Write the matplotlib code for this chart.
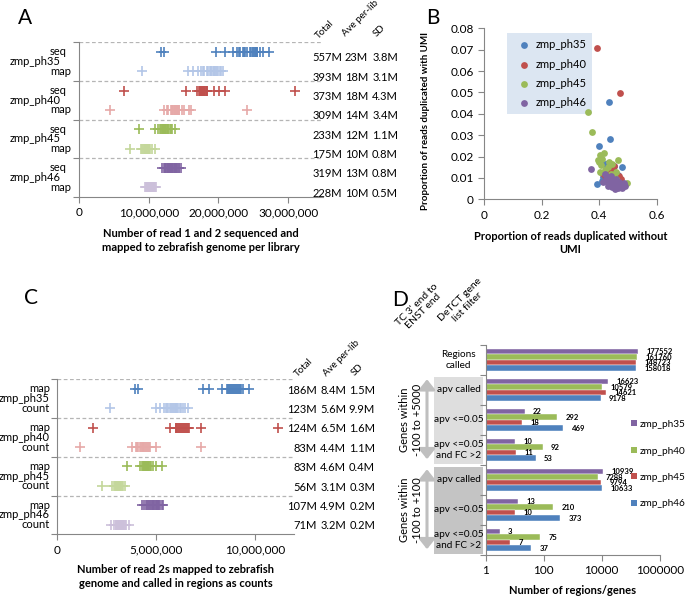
import numpy as np
import matplotlib
matplotlib.use("Agg")
import matplotlib.pyplot as plt
from matplotlib.transforms import blended_transform_factory
from matplotlib.patches import Rectangle, FancyArrowPatch, Patch
from matplotlib.ticker import FuncFormatter, NullLocator

plt.rcParams['font.family'] = ['Lato', 'DejaVu Sans']
plt.rcParams['font.size'] = 8

W, H = 685, 596

groups = ["zmp_ph35", "zmp_ph40", "zmp_ph45", "zmp_ph46"]
dark = ["#4F81BD", "#C0504D", "#9BBB59", "#8064A2"]
light = ["#B3C6E7", "#E6A9A8", "#C4D79B", "#CCC0DA"]

# --- panel A: reads per library (millions) ---
a_rows = ["seq", "map"]
a_seq = [
    [11.7, 12.2, 19.6, 20.9, 22.1, 22.6, 22.9, 23.1, 23.5, 23.6, 23.8, 24.1, 24.5,
     24.7, 24.9, 25.0, 25.2, 25.3, 25.4, 25.5, 25.6, 26.0, 26.4, 27.2],
    [6.4, 15.4, 16.9, 17.2, 17.3, 17.4, 17.5, 17.6, 17.7, 17.8, 17.9, 18.0, 18.1,
     18.2, 18.3, 18.4, 19.3, 20.1, 20.9, 31.0],
    [8.6, 10.9, 11.3, 11.6, 11.8, 11.9, 12.0, 12.1, 12.2, 12.3, 12.4, 12.5, 12.6,
     12.7, 12.8, 13.0, 13.2, 13.4, 13.8],
    [11.9, 12.2, 12.3, 12.4, 12.5, 12.6, 12.7, 12.8, 12.9, 13.0, 13.1, 13.2, 13.3,
     13.4, 13.5, 13.6, 13.7, 13.8, 13.9, 14.0, 14.1, 14.3, 14.4, 14.6],
]
a_map = [
    [9.0, 15.7, 16.4, 17.1, 17.5, 17.8, 18.0, 18.3, 18.5, 18.8, 18.9, 19.0, 19.2,
     19.3, 19.4, 19.5, 19.6, 19.8, 20.0, 20.2, 20.4, 20.7],
    [4.4, 12.2, 12.6, 12.8, 13.2, 13.3, 13.4, 13.5, 13.6, 13.7, 13.8, 13.9, 14.0,
     14.1, 14.2, 14.3, 14.4, 14.8, 15.1, 15.8, 16.0, 24.1],
    [7.3, 8.9, 9.1, 9.2, 9.3, 9.4, 9.5, 9.6, 9.6, 9.7, 9.8, 9.8, 9.9, 10.0, 10.1,
     10.2, 10.5, 10.9],
    [9.5, 9.6, 9.7, 9.8, 9.9, 10.0, 10.0, 10.1, 10.1, 10.2, 10.2, 10.3, 10.3, 10.4,
     10.4, 10.5, 10.6, 10.6, 10.7, 10.8, 10.9, 11.1],
]
a_stats = [["557M", "23M", "3.8M"], ["393M", "18M", "3.1M"],
           ["373M", "18M", "4.3M"], ["309M", "14M", "3.4M"],
           ["233M", "12M", "1.1M"], ["175M", "10M", "0.8M"],
           ["319M", "13M", "0.8M"], ["228M", "10M", "0.5M"]]

# --- panel C: read 2s (millions) ---
c_rows = ["map", "count"]
c_map = [
    [3.95, 4.12, 7.4, 7.7, 8.35, 8.6, 8.65, 8.7, 8.75, 8.8, 8.85, 8.9, 8.95, 9.0,
     9.05, 9.1, 9.15, 9.2, 9.25, 9.3, 9.4, 9.7],
    [1.85, 5.72, 6.0, 6.05, 6.1, 6.15, 6.2, 6.25, 6.3, 6.35, 6.4, 6.45, 6.5, 6.55,
     6.6, 6.65, 6.7, 7.3, 11.2],
    [3.54, 4.2, 4.3, 4.35, 4.4, 4.4, 4.45, 4.5, 4.5, 4.55, 4.6, 4.6, 4.65, 4.7,
     4.75, 4.85, 5.0, 5.3],
    [4.3, 4.4, 4.5, 4.55, 4.6, 4.65, 4.7, 4.75, 4.8, 4.85, 4.85, 4.9, 4.95, 5.0,
     5.05, 5.05, 5.1, 5.1, 5.15, 5.2, 5.3, 5.38],
]
c_count = [
    [2.7, 5.0, 5.2, 5.4, 5.5, 5.55, 5.6, 5.7, 5.75, 5.8, 5.85, 5.9, 5.95, 6.0,
     6.05, 6.1, 6.15, 6.25, 6.3, 6.4, 6.5, 6.65],
    [1.18, 3.8, 4.0, 4.05, 4.1, 4.2, 4.25, 4.3, 4.35, 4.38, 4.4, 4.45, 4.5, 4.55,
     4.6, 4.65, 4.7, 5.0, 7.3],
    [2.27, 2.8, 2.9, 2.95, 3.0, 3.0, 3.05, 3.05, 3.1, 3.1, 3.15, 3.15, 3.2, 3.2,
     3.25, 3.3, 3.35, 3.45],
    [2.75, 2.9, 3.0, 3.0, 3.05, 3.05, 3.1, 3.1, 3.15, 3.15, 3.2, 3.2, 3.25, 3.25,
     3.3, 3.3, 3.35, 3.35, 3.4, 3.45, 3.5, 3.65],
]
c_stats = [["186M", "8.4M", "1.5M"], ["123M", "5.6M", "9.9M"],
           ["124M", "6.5M", "1.6M"], ["83M", "4.4M", "1.1M"],
           ["83M", "4.6M", "0.4M"], ["56M", "3.1M", "0.3M"],
           ["107M", "4.9M", "0.2M"], ["71M", "3.2M", "0.2M"]]
stat_heads = ["Total", "Ave per-lib", "SD"]

# --- panel B: duplication proportions ---
b_x = [
    [0.435, 0.438, 0.401, 0.394, 0.42, 0.43, 0.45, 0.48, 0.46, 0.44, 0.425, 0.47,
     0.415, 0.455, 0.445, 0.465, 0.41, 0.435, 0.475, 0.45],
    [0.391, 0.474, 0.438, 0.45, 0.46, 0.47, 0.43, 0.455, 0.42, 0.465, 0.445, 0.435,
     0.475, 0.41, 0.44, 0.46, 0.425, 0.45],
    [0.362, 0.375, 0.403, 0.417, 0.40, 0.403, 0.466, 0.443, 0.458, 0.497, 0.41,
     0.395, 0.43, 0.45, 0.42, 0.44, 0.46, 0.405, 0.435],
    [0.371, 0.42, 0.43, 0.44, 0.45, 0.46, 0.47, 0.48, 0.49, 0.415, 0.425, 0.435,
     0.445, 0.455, 0.465, 0.475, 0.44, 0.45, 0.46, 0.43, 0.47, 0.485],
]
b_y = [
    [0.0457, 0.0282, 0.0249, 0.0071, 0.0165, 0.017, 0.0158, 0.0152, 0.0125, 0.011,
     0.0135, 0.009, 0.0105, 0.008, 0.0145, 0.0115, 0.0085, 0.0095, 0.0065, 0.0062],
    [0.0707, 0.0496, 0.0137, 0.012, 0.0115, 0.011, 0.0125, 0.0095, 0.011, 0.0085,
     0.0075, 0.0105, 0.0095, 0.0125, 0.0145, 0.007, 0.009, 0.0155],
    [0.041, 0.0313, 0.0207, 0.0215, 0.0176, 0.0129, 0.0184, 0.0165, 0.013, 0.0075,
     0.019, 0.0185, 0.015, 0.011, 0.0135, 0.012, 0.0095, 0.016, 0.0175],
    [0.014, 0.012, 0.0105, 0.009, 0.0075, 0.0065, 0.006, 0.0055, 0.006, 0.008,
     0.0095, 0.007, 0.0058, 0.005, 0.0055, 0.0065, 0.011, 0.0085, 0.0095, 0.0062,
     0.008, 0.0075],
]

# --- panel D: regions / genes per filter ---
d_cats = ["Regions\ncalled", "apv called", "apv <=0.05", "apv <=0.05\nand FC >2",
          "apv called", "apv <=0.05", "apv <=0.05\nand FC >2"]
d_ph35 = [177552, 16623, 22, 10, 10939, 13, 3]
d_ph40 = [161760, 10579, 292, 92, 7288, 210, 75]
d_ph45 = [148723, 14621, 18, 11, 9794, 10, 7]
d_ph46 = [158018, 9178, 469, 53, 10633, 373, 37]
d_colors = ["#8064A2", "#9BBB59", "#C0504D", "#4F81BD"]

fig = plt.figure(figsize=(W / 100, H / 100), dpi=100)


def fx(px):
    return px / W


def fy(py):
    return 1 - py / H


def add_ax(l, t, r, b):
    return fig.add_axes([fx(l), fy(b), (r - l) / W, (b - t) / H])


def style_spines(ax):
    for s in ("top", "right"):
        ax.spines[s].set_visible(False)
    for s in ("left", "bottom"):
        ax.spines[s].set_color("#868686")
    ax.tick_params(direction="out", length=4, color="#868686", labelsize=8.5)


def strip_panel(ax, top_vals, bot_vals, rows, stats, xmax, step, xlabel,
                inner_x, inner_ha, outer_x, outer_ha, col_x, stat_dy, head_xy):
    tr = blended_transform_factory(fig.transFigure, ax.transData)
    for g in range(4):
        y_top = 8 - 2 * g - 0.5
        for vals, yy, col in ((top_vals[g], y_top, dark[g]), (bot_vals[g], y_top - 1, light[g])):
            ax.plot(np.array(vals) * 1e6, np.full(len(vals), yy), ls="none", marker="+",
                    ms=6.5, mew=1.2, color=col)
        ax.text(fx(inner_x), y_top, rows[0], transform=tr, ha=inner_ha, va="center")
        ax.text(fx(inner_x), y_top - 1, rows[1], transform=tr, ha=inner_ha, va="center")
        ax.text(fx(outer_x), y_top - 0.5, groups[g], transform=tr, ha=outer_ha, va="center")
        for k, yy in enumerate((y_top, y_top - 1)):
            for j in range(3):
                ax.text(fx(col_x[j]), yy - stat_dy, stats[2 * g + k][j], transform=tr,
                        ha="right", va="center")
    for j, (hx, hy) in enumerate(head_xy):
        fig.text(fx(hx), fy(hy), stat_heads[j], rotation=45, rotation_mode="anchor",
                 ha="left", va="baseline", fontsize=7)
    for yv in (2, 4, 6, 8):
        ax.axhline(yv, color="#b5b5b5", ls=(0, (3, 2)), lw=0.9)
    ax.set_xlim(0, xmax)
    ax.set_ylim(0, 8)
    ax.set_yticks([0, 2, 4, 6, 8])
    ax.set_yticklabels([])
    ax.set_xticks(np.arange(0, xmax, step))
    ax.xaxis.set_major_formatter(FuncFormatter(lambda v, p: f"{v:,.0f}"))
    style_spines(ax)
    ax.set_xlabel(xlabel, fontweight="bold", fontsize=8, linespacing=1.3)


# panel A
axA = add_ax(79, 42.3, 323, 197)
strip_panel(axA, a_seq, a_map, a_rows, a_stats, 35e6, 10e6,
            "Number of read 1 and 2 sequenced and\nmapped to zebrafish genome per library",
            50, "left", 10, "left", (342, 368, 398), 0.3,
            [(319, 39), (346, 37), (377, 37)])
axA.xaxis.set_label_coords(0.5, -0.28)
axA.xaxis.label.set_va("center")

# panel C
axC = add_ax(56.7, 379.3, 294.3, 534.3)
strip_panel(axC, c_map, c_count, c_rows, c_stats, 12e6, 5e6,
            "Number of read 2s mapped to zebrafish\ngenome and called in regions as counts",
            50, "right", 50, "right", (317, 346, 375), 0.06,
            [(298, 377), (327, 377), (355, 376)])
axC.xaxis.set_label_coords(0.5, -0.272)
axC.xaxis.label.set_va("center")

# panel B
axB = add_ax(484, 28.3, 656.7, 199.3)
for g in range(4):
    axB.scatter(b_x[g], b_y[g], s=24, color=dark[g], label=groups[g], linewidths=0, zorder=3)
axB.set_xlim(0, 0.6)
axB.set_ylim(0, 0.08)
axB.set_xticks([0, 0.2, 0.4, 0.6])
axB.set_yticks(np.arange(0, 0.081, 0.01))
axB.xaxis.set_major_formatter(FuncFormatter(lambda v, p: f"{v:g}"))
axB.yaxis.set_major_formatter(FuncFormatter(lambda v, p: f"{round(v, 2):g}"))
style_spines(axB)
axB.set_ylabel("Proportion of reads duplicated with UMI", fontweight="bold", fontsize=7)
axB.yaxis.set_label_coords(-0.313, 0.455)
axB.set_xlabel("Proportion of reads duplicated without\nUMI", fontweight="bold",
               fontsize=8, linespacing=1.3)
axB.xaxis.set_label_coords(0.5, -0.256)
axB.xaxis.label.set_va("center")
leg = axB.legend(loc="upper left", bbox_to_anchor=(0.133, 0.972), frameon=True,
                 facecolor="#dce6f2", edgecolor="none", fancybox=False, framealpha=1,
                 handletextpad=0.0, labelspacing=0.75, borderpad=0.55,
                 borderaxespad=0, fontsize=8)
leg.set_zorder(2)

# panel D
axD = add_ax(485.7, 345, 659.7, 555)
yc = 6 - np.arange(len(d_cats))
bh = 0.1833
for s, (vals, col, name) in enumerate(zip((d_ph35, d_ph40, d_ph45, d_ph46), d_colors, groups)):
    vals = np.array(vals, dtype=float)
    ys = yc + 0.275 - s * bh
    axD.barh(ys, vals - 1, left=1, height=bh, color=col, edgecolor="white",
             linewidth=0.3, label=name)
    for v, yv in zip(vals, ys):
        axD.annotate(f"{int(v)}", (v, yv), xytext=(6, 0), textcoords="offset points",
                     ha="left", va="center", fontsize=5.5, fontweight="bold")
axD.set_xscale("log")
axD.set_xlim(1, 1e6)
axD.set_ylim(-0.5, 6.5)
axD.set_xticks([1, 100, 1e4, 1e6])
axD.set_xticklabels(["1", "100", "10000", "1000000"])
axD.xaxis.set_minor_locator(NullLocator())
axD.set_yticks(np.arange(-0.5, 7, 1))
axD.set_yticklabels([])
style_spines(axD)
axD.set_xlabel("Number of regions/genes", fontweight="bold", fontsize=8)
axD.xaxis.set_label_coords(0.5, -0.167)
axD.xaxis.label.set_va("center")

trD = blended_transform_factory(fig.transFigure, axD.transData)
axD.add_patch(Rectangle((fx(434), 2.55), fx(483) - fx(434), 2.9, transform=trD,
                        facecolor="#dedede", edgecolor="none", clip_on=False, zorder=0))
axD.add_patch(Rectangle((fx(434), -0.45), fx(483) - fx(434), 2.9, transform=trD,
                        facecolor="#c4c4c4", edgecolor="none", clip_on=False, zorder=0))
for i, lab in enumerate(d_cats):
    axD.text(fx(458.5), yc[i], lab, transform=trD, ha="center", va="center",
             multialignment="center", fontsize=7.2, linespacing=1.35)
for y0, y1 in ((2.6, 5.45), (-0.4, 2.45)):
    axD.add_patch(FancyArrowPatch((fx(427), y0), (fx(427), y1), transform=trD,
                                  arrowstyle="<|-|>,head_length=0.5,head_width=0.4",
                                  mutation_scale=12, lw=2.2, color="#bfbfbf",
                                  clip_on=False))
axD.text(fx(411), 4.0, "Genes within\n-100 to +5000", transform=trD, rotation=90,
         ha="center", va="center", fontsize=8, linespacing=1.3)
axD.text(fx(411), 1.0, "Genes within\n-100 to +100", transform=trD, rotation=90,
         ha="center", va="center", fontsize=8, linespacing=1.3)
fig.text(fx(420), fy(308), "TC 3' end to\nENST end", rotation=45, rotation_mode="anchor",
         ha="center", va="center", fontsize=7.5, linespacing=1.2)
fig.text(fx(464), fy(303), "DeTCT gene\nlist filter", rotation=45, rotation_mode="anchor",
         ha="center", va="center", fontsize=7.5, linespacing=1.2)

handles = [Patch(facecolor=c, edgecolor="none") for c in d_colors]
fig.legend(handles, groups, loc="upper left", bbox_to_anchor=(fx(631), fy(420)),
           frameon=False, handlelength=0.55, handleheight=0.55, handletextpad=0.35,
           labelspacing=1.75, fontsize=7.2, borderaxespad=0, borderpad=0)

# panel letters
for lab, px, py in (("A", 18, 8), ("B", 426, 8), ("C", 24, 288), ("D", 392, 290)):
    fig.text(fx(px), fy(py), lab, fontsize=15, va="top", ha="left")

fig.savefig("out.png", dpi=100)
